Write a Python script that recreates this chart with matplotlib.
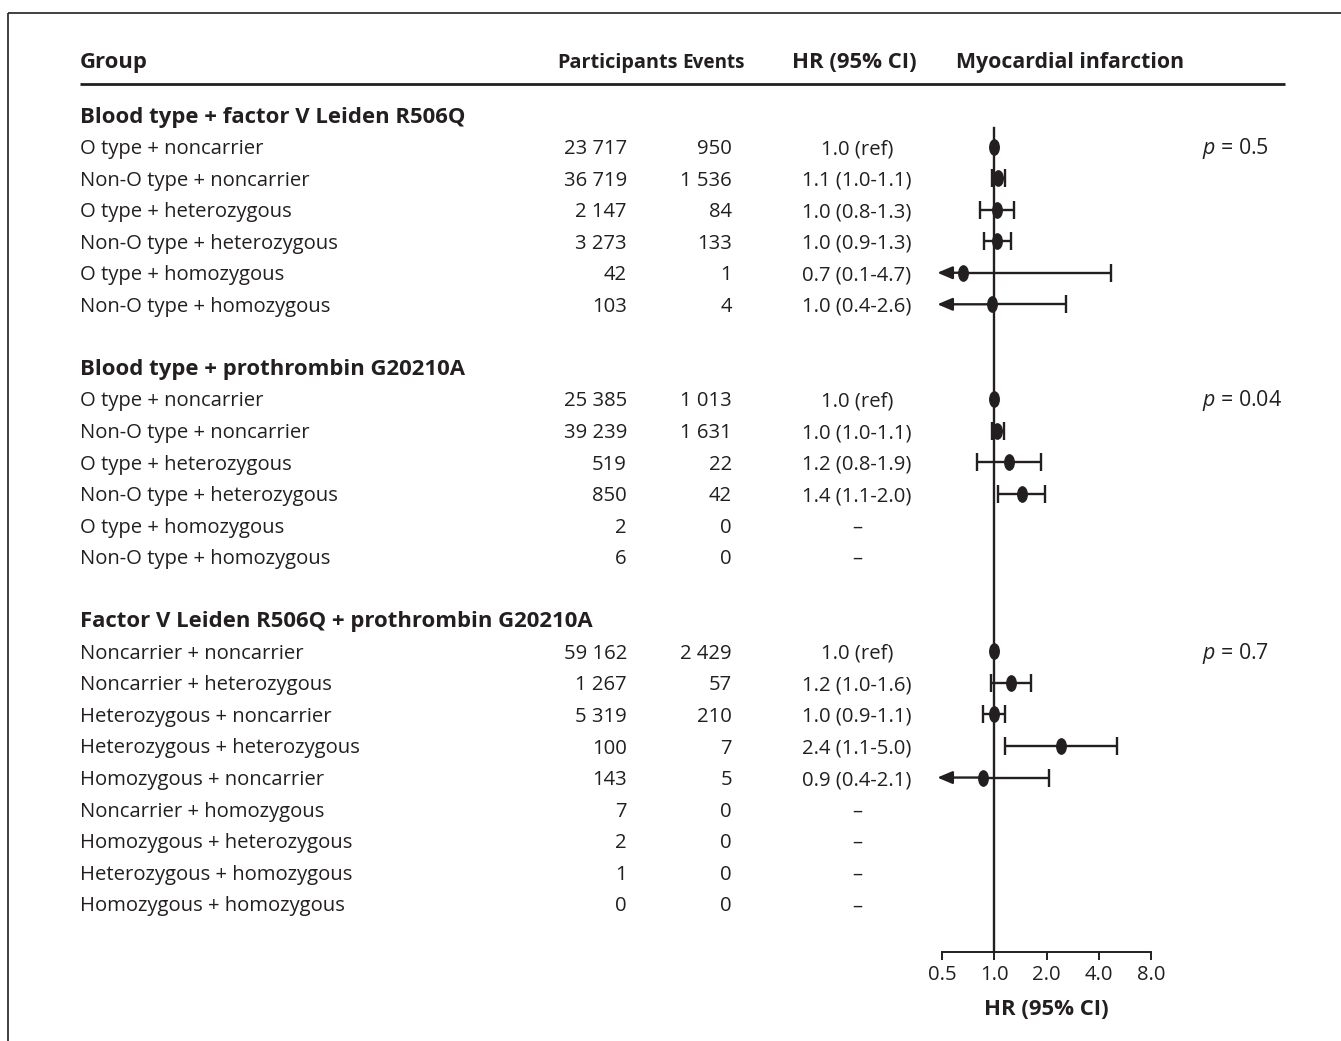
import matplotlib
matplotlib.use("Agg")
import matplotlib.pyplot as plt
import numpy as np
from matplotlib.path import Path
from matplotlib.markers import MarkerStyle
from matplotlib.transforms import Affine2D
from matplotlib.ticker import FixedLocator, FixedFormatter

plt.rcParams['font.family'] = ['Open Sans', 'DejaVu Sans']
plt.rcParams['mathtext.fontset'] = 'custom'
plt.rcParams['mathtext.it'] = 'Open Sans:italic'
plt.rcParams['mathtext.rm'] = 'Open Sans'

# ---------------- data ----------------
section_titles = ["Blood type + factor V Leiden R506Q",
                  "Blood type + prothrombin G20210A",
                  "Factor V Leiden R506Q + prothrombin G20210A"]

groups_1 = ["O type + noncarrier", "Non-O type + noncarrier", "O type + heterozygous",
            "Non-O type + heterozygous", "O type + homozygous", "Non-O type + homozygous"]
participants_1 = ["23 717", "36 719", "2 147", "3 273", "42", "103"]
events_1 = ["950", "1 536", "84", "133", "1", "4"]
hr_text_1 = ["1.0 (ref)", "1.1 (1.0-1.1)", "1.0 (0.8-1.3)", "1.0 (0.9-1.3)", "0.7 (0.1-4.7)", "1.0 (0.4-2.6)"]
hr_1 = [1.0, 1.05, 1.03, 1.04, 0.66, 0.97]
lo_1 = [None, 0.97, 0.83, 0.87, 0.1, 0.4]
hi_1 = [None, 1.15, 1.30, 1.24, 4.69, 2.57]

groups_2 = ["O type + noncarrier", "Non-O type + noncarrier", "O type + heterozygous",
            "Non-O type + heterozygous", "O type + homozygous", "Non-O type + homozygous"]
participants_2 = ["25 385", "39 239", "519", "850", "2", "6"]
events_2 = ["1 013", "1 631", "22", "42", "0", "0"]
hr_text_2 = ["1.0 (ref)", "1.0 (1.0-1.1)", "1.2 (0.8-1.9)", "1.4 (1.1-2.0)", "\u2013", "\u2013"]
hr_2 = [1.0, 1.04, 1.215, 1.44, None, None]
lo_2 = [None, 0.97, 0.80, 1.045, None, None]
hi_2 = [None, 1.13, 1.86, 1.96, None, None]

groups_3 = ["Noncarrier + noncarrier", "Noncarrier + heterozygous", "Heterozygous + noncarrier",
            "Heterozygous + heterozygous", "Homozygous + noncarrier", "Noncarrier + homozygous",
            "Homozygous + heterozygous", "Heterozygous + homozygous", "Homozygous + homozygous"]
participants_3 = ["59 162", "1 267", "5 319", "100", "143", "7", "2", "1", "0"]
events_3 = ["2 429", "57", "210", "7", "5", "0", "0", "0", "0"]
hr_text_3 = ["1.0 (ref)", "1.2 (1.0-1.6)", "1.0 (0.9-1.1)", "2.4 (1.1-5.0)", "0.9 (0.4-2.1)",
             "\u2013", "\u2013", "\u2013", "\u2013"]
hr_3 = [1.0, 1.24, 0.99, 2.41, 0.857, None, None, None, None]
lo_3 = [None, 0.957, 0.857, 1.15, 0.4, None, None, None, None]
hi_3 = [None, 1.63, 1.152, 5.08, 2.06, None, None, None, None]

p_values = ["0.5", "0.04", "0.7"]

headers = ["Group", "Participants", "Events", "HR (95% CI)", "Myocardial infarction"]
tick_values = [0.5, 1.0, 2.0, 4.0, 8.0]
tick_labels = ["0.5", "1.0", "2.0", "4.0", "8.0"]
xlabel = "HR (95% CI)"

sections = [
    (groups_1, participants_1, events_1, hr_text_1, hr_1, lo_1, hi_1),
    (groups_2, participants_2, events_2, hr_text_2, hr_2, lo_2, hi_2),
    (groups_3, participants_3, events_3, hr_text_3, hr_3, lo_3, hi_3),
]

# ---------------- layout ----------------
W, H = 1341, 1041
DPI = 100
C = '#231f20'
FS = 14.6
FSB = 15.9     # section titles
BL = 7.5  # baseline offset (px) from row centre

fig = plt.figure(figsize=(W / DPI, H / DPI), dpi=DPI)
base = fig.add_axes([0, 0, 1, 1])
base.set_xlim(0, W)
base.set_ylim(H, 0)
base.axis('off')

# forest axes: pixel x range
fx0, fx1 = 890, 1190
px_per_doubling = 52.3
x_ref_px = 994.3
xmin = 2 ** ((fx0 - x_ref_px) / px_per_doubling)
xmax = 2 ** ((fx1 - x_ref_px) / px_per_doubling)
fa = fig.add_axes([fx0 / W, 0, (fx1 - fx0) / W, 1])
fa.set_xscale('log', base=2)
fa.set_xlim(xmin, xmax)
fa.set_ylim(H, 0)
fa.patch.set_visible(False)
for s in ['top', 'right', 'left']:
    fa.spines[s].set_visible(False)
axis_y = 952
fa.spines['bottom'].set_position(('data', axis_y))
fa.spines['bottom'].set_bounds(tick_values[0], tick_values[-1])
fa.spines['bottom'].set_linewidth(1.4)
fa.spines['bottom'].set_color(C)
fa.yaxis.set_visible(False)
fa.xaxis.set_major_locator(FixedLocator(tick_values))
fa.xaxis.set_major_formatter(FixedFormatter(tick_labels))
fa.xaxis.set_minor_locator(FixedLocator([]))
fa.tick_params(axis='x', direction='out', length=5.8, width=1.4, color=C,
               labelsize=FS, labelcolor=C, pad=3.5)

# frame
base.plot([8.5, W], [12.5, 12.5], color=C, lw=1.2, solid_capstyle='butt')
base.plot([8.5, 8.5], [12.5, H], color=C, lw=1.2, solid_capstyle='butt')

# header
hy = 61
col_group = 80
col_part_r = 627
col_evt_r = 732
col_hr_c = 857
col_p = 1202
header_x = [col_group, 618, 713.5, 792, 956]
header_ha = ['left', 'center', 'center', 'left', 'left']
header_fs = [FSB, 14.3, 13.6, FSB, 15.3]
for hx, ht, ha, hf in zip(header_x, headers, header_ha, header_fs):
    base.text(hx, hy + 7, ht, fontsize=hf, fontweight='bold', color=C, ha=ha, va='baseline')
base.plot([80, 1285], [84, 84], color=C, lw=2.0, solid_capstyle='butt')

# ellipse marker
ell = Path.unit_circle().transformed(Affine2D().scale(0.62, 1.0))
ell_marker = MarkerStyle(ell)

row0 = 115
step = 31.55
lw = 1.7
cap_ms = 13
arrow_tip = 0.47

k = 0
for si, (grp, part, evt, hrt, hr, lo, hi) in enumerate(sections):
    ys = row0 + k * step
    base.text(col_group, ys + BL, section_titles[si], fontsize=FSB, fontweight='bold', color=C,
              ha='left', va='baseline')
    k += 1
    for i in range(len(grp)):
        y = row0 + k * step
        yb = y + BL
        base.text(col_group, yb, grp[i], fontsize=FS, color=C, ha='left', va='baseline')
        base.text(col_part_r, yb, part[i], fontsize=FS, color=C, ha='right', va='baseline')
        base.text(col_evt_r, yb, evt[i], fontsize=FS, color=C, ha='right', va='baseline')
        base.text(col_hr_c, yb, hrt[i], fontsize=FS, color=C, ha='center', va='baseline')
        if i == 0:
            base.text(col_p, yb, r'$\it{p}$ = ' + p_values[si], fontsize=FS + 0.8, color=C,
                      ha='left', va='baseline')
        if hr[i] is not None:
            if lo[i] is not None:
                if lo[i] < tick_values[0]:
                    fa.plot([hr[i], hi[i]], [y, y], color=C, lw=lw, solid_capstyle='butt')
                    fa.annotate('', xy=(arrow_tip, y), xytext=(hr[i], y),
                                arrowprops=dict(arrowstyle='-|>,head_length=0.9,head_width=0.38',
                                                color=C, lw=lw, shrinkA=0, shrinkB=0))
                    fa.plot([hi[i]], [y], marker='|', ms=cap_ms, mew=lw, color=C)
                else:
                    fa.plot([lo[i], hi[i]], [y, y], color=C, lw=lw, solid_capstyle='butt')
                    fa.plot([lo[i], hi[i]], [y, y], ls='none', marker='|', ms=cap_ms, mew=lw, color=C)
            fa.plot([hr[i]], [y], ls='none', marker=ell_marker, ms=11, color=C, zorder=5)
        k += 1
    k += 1

# reference line
fa.plot([1.0, 1.0], [128, axis_y], color=C, lw=lw, zorder=4)

# x label
base.text(1046, 1015, xlabel, fontsize=FSB, fontweight='bold', color=C, ha='center', va='baseline')

fig.savefig('out.png', dpi=DPI)
